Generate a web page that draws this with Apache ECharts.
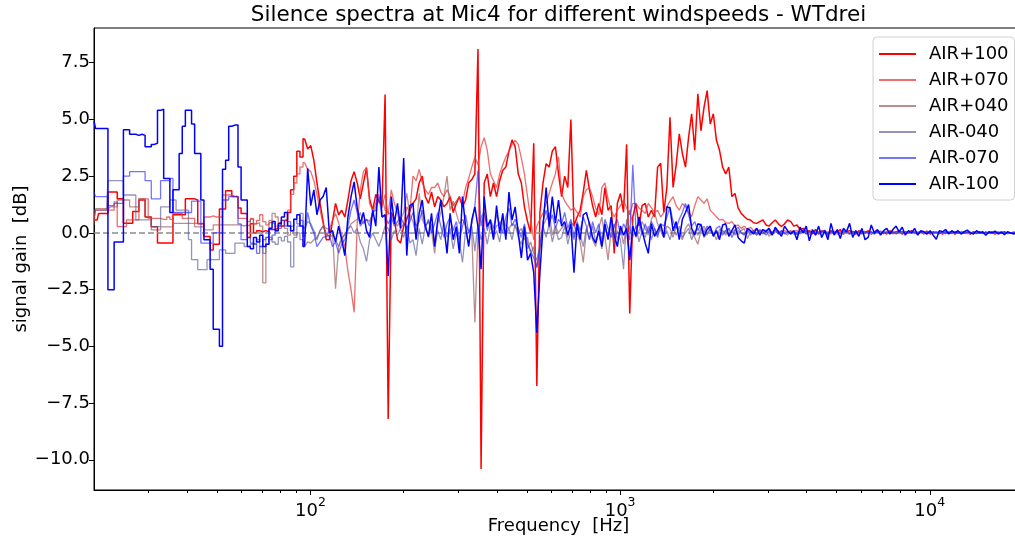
<!DOCTYPE html>
<html><head><meta charset="utf-8">
<script src="https://cdn.jsdelivr.net/npm/echarts@6/dist/echarts.min.js"></script>
<style>html,body{margin:0;padding:0;background:#fff}#c{width:1015px;height:545px}</style>
</head><body><div id="c"></div>
<script>
const TITLE = 'Silence spectra at Mic4 for different windspeeds - WTdrei';
const X_NAME = 'Frequency  [Hz]';
const Y_NAME = 'signal gain  [dB]';
const SERIES_NAMES = ['AIR+100', 'AIR+070', 'AIR+040', 'AIR-040', 'AIR-070', 'AIR-100'];
// sampling grid: 100 log-spaced points per decade starting at 20 Hz
const F_START = 20, PTS_PER_DECADE = 100, N_PTS = 301;
const FREQ = Array.from({length: N_PTS}, (_, i) => F_START * Math.pow(10, i / PTS_PER_DECADE));
const STEP_UNTIL = 68; // low-frequency bins are drawn as steps
const X_MAJOR = [100, 1000, 10000];
const X_MINOR = [30,40,50,60,70,80,90,200,300,400,500,600,700,800,900,2000,3000,4000,5000,6000,7000,8000,9000,20000];
const Y_TICKS = [-10, -7.5, -5, -2.5, 0, 2.5, 5, 7.5];

const AIR_P100 = [
0.57,0.57,0.86,0.86,0.86,1.8,1.8,1.8,1.5,1.5,
0.42,0.42,0.42,0.94,0.94,1.45,1.45,0.7,0.7,0.27,
0.27,-0.45,-0.45,-0.45,-0.45,-0.45,0.8,0.8,0.8,0.8,
1.5,1.5,1.5,1.45,0.4,0.4,-0.16,-0.16,-0.75,-0.5,
-0.5,1.05,1.05,1.86,1.86,1.6,1.6,1.1,0.86,0.86,
-0.2,0.4,0.0,0.1,0.05,0.1,0.05,0.15,0.15,0.2,
0.3,0.3,0.55,0.9,1.9,2.5,3.6,3.35,4.15,3.7,
3.85,3.2,2.2,1.3,0.5,-0.3,-0.3,0.5,1.3,0.8,
1.0,0.7,1.45,2.3,2.7,2.2,1.5,2.2,2.85,1.5,
1.0,1.7,1.4,1.2,6.1,-8.2,0.9,0.6,-0.3,-0.45,
0.3,0.6,1.0,1.3,1.5,2.2,2.5,1.6,1.3,1.8,
1.15,1.6,1.45,1.15,1.3,1.6,0.9,1.3,1.6,1.15,
1.45,2.2,2.35,2.6,8.1,-10.4,2.2,2.6,1.6,2.2,
1.6,2.3,2.76,2.9,3.6,4.1,3.8,2.6,2.2,1.15,
0.5,0.0,3.95,-6.75,0.9,2.2,3.05,2.9,3.6,3.8,
2.6,1.6,2.5,2.0,5.0,0.3,0.7,1.0,1.8,2.76,
1.9,1.2,0.7,1.3,0.8,2.0,1.0,1.2,-0.9,1.3,
1.74,0.9,3.9,-3.55,0.7,1.3,0.3,1.2,1.3,0.7,
1.0,0.7,2.9,3.07,0.9,2.0,5.1,2.0,3.0,4.37,
3.5,2.9,4.2,5.25,3.64,6.13,4.5,5.54,6.27,4.8,
5.25,4.08,3.64,2.9,2.6,2.9,1.6,1.74,1.1,0.86,
0.72,0.6,0.57,0.45,0.42,0.5,0.57,0.35,0.3,0.45,
0.57,0.4,0.28,0.4,0.57,0.5,0.3,0.35,0.15,0.2,
0.05,0.1,-0.05,0.15,0.0,0.1,0.05,-0.1,0.1,0.0,
0.05,0.15,-0.05,0.05,0.1,0.0,-0.05,0.1,0.05,0.0,
0.1,-0.05,0.05,0.1,0.0,0.05,-0.05,0.1,0.0,0.05,
0.08,-0.05,0.05,0.0,0.1,0.0,-0.05,0.05,0.0,0.08,
-0.05,0.05,0.0,0.05,-0.05,0.05,0.0,0.05,-0.05,0.05,
0.0,0.05,0.0,-0.05,0.05,0.0,0.05,-0.03,0.03,0.0,
0.05,-0.05,0.03,0.0,0.05,-0.03,0.0,0.03,-0.03,0.03,
0.0];

const AIR_P070 = [
0.64,1.0,1.0,1.0,1.0,1.0,1.0,1.37,0.28,0.28,
0.28,0.57,0.57,0.57,0.57,1.5,1.5,1.5,0.64,0.64,
0.64,0.64,0.6,0.6,0.7,0.6,0.86,0.86,0.86,0.64,
0.64,0.64,0.64,0.42,0.42,0.42,0.7,0.7,0.75,0.7,
0.7,0.7,1.67,1.67,1.67,1.6,1.6,0.64,0.64,0.64,
0.5,0.64,0.4,0.55,0.8,0.5,0.35,0.45,0.4,0.3,
0.45,0.55,0.6,1.0,1.7,2.2,2.6,2.9,3.1,2.8,
2.7,2.3,1.7,1.0,0.4,-0.15,0.15,0.55,0.85,0.45,
-0.1,-0.6,-1.7,-2.5,-3.5,0.4,1.9,2.7,2.9,1.3,
1.0,1.3,1.7,1.1,1.7,0.8,1.9,1.3,0.9,0.2,
0.4,1.15,0.9,2.5,2.3,2.8,2.2,1.9,1.7,2.0,
2.0,2.2,1.8,1.6,1.9,1.6,1.2,1.4,1.6,1.3,
2.0,2.4,2.9,3.35,3.0,3.8,4.2,3.64,2.6,2.3,
2.0,2.6,3.0,3.35,3.6,3.9,4.08,3.9,3.3,2.6,
1.6,0.6,-0.3,0.3,0.6,0.86,1.3,1.74,2.2,2.6,
3.35,1.74,1.4,1.2,1.0,1.1,0.9,0.7,1.6,1.9,
2.0,1.6,1.1,0.8,2.0,2.2,1.5,1.0,0.7,1.0,
1.2,1.45,1.1,0.8,1.3,1.3,1.1,1.0,0.85,1.3,
1.1,0.9,1.0,0.7,0.9,1.15,1.4,1.6,1.2,1.0,
1.3,1.15,0.9,0.72,1.2,1.6,1.45,1.3,1.5,1.0,
0.86,0.7,0.57,0.6,0.45,0.42,0.5,0.3,0.35,0.2,
0.3,0.15,0.25,0.1,0.2,0.05,0.15,0.1,0.2,0.0,
0.15,0.1,-0.05,0.1,0.05,0.1,0.05,0.12,-0.05,0.08,
0.0,0.1,0.05,-0.08,0.05,0.1,0.0,0.05,-0.05,0.08,
0.02,0.06,-0.04,0.08,0.0,0.05,-0.06,0.04,0.07,0.0,
0.05,-0.04,0.06,0.02,-0.05,0.06,0.0,0.04,-0.03,0.05,
0.0,0.05,-0.04,0.03,0.06,-0.02,0.04,0.0,-0.05,0.04,
0.02,-0.03,0.05,0.0,0.03,-0.04,0.04,0.0,0.03,-0.02,
0.04,0.0,-0.03,0.03,0.0,0.04,-0.02,0.02,0.0,0.03,
-0.02,0.02,0.0,0.03,-0.02,0.02,0.0,-0.02,0.02,0.0,
0.0];

const AIR_P040 = [
0.35,1.07,1.07,1.07,1.07,1.15,1.15,1.15,1.45,1.45,
1.45,1.45,1.15,1.15,1.15,1.5,1.5,0.7,0.7,0.13,
0.13,0.13,0.27,0.27,0.27,0.27,0.42,0.42,0.42,0.42,
0.42,0.42,0.42,0.27,0.27,0.27,0.13,0.13,0.13,0.35,
0.35,0.35,0.35,0.35,0.35,0.35,0.35,0.35,0.3,0.35,
0.3,0.6,0.4,0.45,0.3,-2.2,-0.2,0.55,0.86,0.7,
0.45,0.3,0.2,-0.1,0.1,-0.1,0.0,-0.3,-0.6,-0.4,
-0.45,-0.3,-0.2,0.1,0.3,0.2,0.15,0.1,-2.46,-0.6,
-0.3,0.0,0.1,0.4,0.5,0.6,0.9,0.4,0.6,0.5,
0.9,1.15,1.4,1.6,1.0,0.9,0.8,0.5,0.3,0.6,
0.9,1.74,0.8,0.5,-0.1,1.74,0.6,0.3,0.5,0.1,
-0.9,0.4,0.9,1.6,2.5,1.0,1.4,0.86,0.4,0.6,
0.3,0.1,0.0,-3.95,0.0,0.7,0.9,0.3,0.5,0.0,
0.3,0.4,0.6,0.3,0.2,0.4,0.3,0.0,0.2,-0.3,
-0.2,-0.9,-0.6,-1.55,-0.8,0.3,0.6,0.9,-0.1,0.3,
0.0,0.2,0.4,-0.2,0.5,0.3,0.0,-0.4,-1.3,0.1,
0.5,-0.3,-0.6,0.2,0.7,-0.2,-1.2,0.1,0.4,-0.3,
0.2,-0.5,0.4,1.0,0.3,-0.2,0.1,0.5,0.2,-0.1,
0.6,0.9,0.4,0.1,-0.2,0.3,0.2,-0.2,0.3,0.1,
-0.3,0.2,0.4,0.0,-0.2,-0.5,0.1,0.3,-0.1,0.2,
0.0,-0.3,0.15,0.1,-0.1,0.2,0.0,0.15,-0.1,0.1,
0.2,-0.25,0.05,0.1,-0.1,0.1,0.0,0.1,-0.15,0.05,
0.1,-0.05,0.1,0.0,-0.1,0.05,0.08,-0.06,0.1,0.0,
0.06,-0.08,0.04,0.1,-0.05,0.03,0.08,-0.04,0.05,0.0,
-0.06,0.05,0.02,0.08,-0.03,0.04,0.0,0.06,-0.05,0.03,
0.05,0.0,-0.04,0.06,0.02,-0.03,0.05,0.0,0.04,-0.04,
0.03,0.05,-0.02,0.0,0.04,-0.03,0.02,0.05,0.0,-0.03,
0.04,0.0,0.03,-0.03,0.02,0.04,-0.02,0.0,0.03,-0.02,
0.02,0.03,-0.02,0.0,0.03,-0.02,0.02,0.0,0.02,-0.02,
0.02,0.0,-0.02,0.02,0.0,0.02,-0.02,0.0,0.02,0.0,
0.0];

const AIR_M040 = [
1.0,1.0,1.0,1.0,1.0,2.3,2.3,2.3,2.3,2.3,
1.67,1.67,1.67,1.67,0.57,0.57,0.57,0.57,0.57,0.28,
0.28,0.28,1.15,1.15,1.15,1.45,1.45,1.0,1.0,1.0,
1.0,-0.3,-1.18,-1.18,-1.62,-1.62,-1.62,-1.18,-1.18,-1.18,
-1.18,-0.75,-0.75,-0.9,-0.9,-0.9,-0.45,-0.45,-0.45,-0.6,
-0.6,-0.5,-0.5,-0.3,-0.6,-0.9,-0.5,-0.2,-0.4,-0.5,
-0.2,-0.35,-0.15,-0.4,-1.5,-0.2,0.3,0.86,0.2,0.5,
0.4,0.1,-0.3,0.1,0.3,0.0,-0.2,-0.1,-0.3,-0.6,
-0.2,-0.1,0.2,0.3,0.0,0.2,-0.4,-0.7,-1.26,-0.3,
0.0,-0.3,-0.6,-0.2,0.3,0.2,-0.3,0.1,-0.1,0.2,
-0.2,0.3,-0.45,-0.3,-1.0,0.2,-0.5,0.3,-0.2,0.4,
-0.6,0.1,-0.3,0.5,-0.2,0.2,-0.7,0.0,-0.4,-1.3,
0.1,-0.5,0.3,-0.8,0.4,-0.3,0.2,-0.5,0.3,-0.2,
0.1,-0.4,0.5,-0.1,0.2,-0.3,0.4,-0.2,-0.5,0.1,
-0.7,-0.4,-0.9,-1.2,-0.5,0.3,-0.2,0.4,-0.4,0.2,
-0.3,-0.2,0.3,-0.5,0.1,-0.3,0.4,-0.1,-0.6,0.2,
-0.3,0.3,-0.4,0.0,-0.7,0.2,-0.2,0.4,-0.5,0.1,
-0.3,-1.6,0.6,0.2,-0.2,0.3,-0.4,0.1,-0.2,0.3,
-0.3,0.2,-0.1,0.3,-0.2,0.1,-0.3,0.2,-0.1,0.3,
-0.2,0.0,0.2,-0.3,0.1,-0.1,0.2,-0.2,0.0,0.15,
-0.1,0.1,-0.15,0.05,0.1,-0.1,0.05,-0.1,0.1,0.0,
-0.05,0.1,-0.1,0.05,0.0,0.05,-0.05,0.05,0.0,-0.05,
0.05,0.0,0.05,-0.05,0.0,0.05,-0.06,0.04,0.0,0.06,
-0.04,0.03,0.06,-0.05,0.02,0.0,0.05,-0.04,0.03,0.0,
0.05,-0.03,0.02,0.06,-0.04,0.0,0.04,-0.02,0.05,-0.03,
0.0,0.04,-0.03,0.03,0.0,0.05,-0.02,0.02,-0.04,0.03,
0.02,-0.03,0.04,0.0,-0.02,0.03,0.0,0.04,-0.03,0.02,
0.0,0.03,-0.02,0.02,0.0,-0.03,0.03,0.0,0.02,-0.02,
0.02,0.0,0.03,-0.02,0.0,0.02,-0.02,0.02,0.0,0.02,
-0.02,0.0,0.02,0.0,-0.02,0.02,0.0,0.02,-0.02,0.0,
0.0];

const AIR_M070 = [
1.8,1.6,1.6,1.6,1.6,1.2,1.2,1.3,1.3,1.3,
2.5,2.5,2.7,2.7,2.7,2.7,2.7,2.3,2.3,1.5,
1.5,1.5,2.3,2.3,2.3,2.4,0.9,0.9,0.9,0.9,
0.9,0.9,1.4,1.4,1.4,-0.45,-0.45,-0.45,-0.45,0.0,
0.0,0.0,1.45,1.45,1.6,1.6,1.6,0.4,-0.3,-0.3,
-0.2,-0.45,-0.5,-0.9,-0.6,-0.3,-0.2,-0.3,-0.1,0.1,
0.2,0.55,0.3,0.5,0.3,0.6,0.4,0.55,-0.15,0.9,
0.3,0.0,-0.6,-0.4,-0.2,-0.15,-0.1,-0.6,-0.4,-0.9,
-0.5,-0.3,0.3,1.0,1.45,0.9,0.3,0.5,0.6,0.3,
0.9,1.0,1.6,0.7,0.8,0.4,0.7,0.3,0.5,0.7,
0.4,0.2,0.5,0.9,0.3,0.5,1.0,0.2,0.6,0.0,
0.4,0.9,0.3,-0.2,0.4,0.7,0.1,0.5,-0.3,0.3,
0.8,0.0,0.4,1.2,2.76,0.3,0.9,0.1,0.6,0.2,
0.8,0.4,0.0,0.7,1.1,0.3,0.6,0.2,-0.2,0.4,
-0.5,-0.8,-1.1,-1.5,-0.6,0.5,1.0,0.4,0.8,0.2,
0.6,0.4,0.9,0.2,0.6,-0.2,0.5,0.1,0.7,0.3,
-0.3,0.5,0.0,0.4,-0.4,0.6,0.2,-0.2,0.3,0.6,
-0.1,0.4,0.1,-0.3,3.0,0.2,0.5,-0.1,0.4,0.0,
0.5,0.2,-0.2,0.4,0.3,0.7,1.15,0.5,0.2,0.6,
0.9,1.3,0.8,0.3,0.5,0.1,0.4,0.0,0.3,0.1,
-0.1,0.2,0.3,-0.1,0.1,0.2,-0.2,0.1,0.25,0.0,
-0.1,0.15,0.0,0.1,-0.1,0.15,0.05,-0.1,0.1,0.0,
0.15,-0.05,0.1,0.0,0.05,-0.05,0.1,-0.08,0.06,0.12,
-0.05,0.08,0.0,0.1,-0.06,0.05,0.12,-0.04,0.06,0.0,
0.08,-0.05,0.1,0.02,-0.06,0.08,0.0,0.05,-0.04,0.07,
0.0,0.06,-0.05,0.04,0.08,-0.03,0.05,0.0,0.06,-0.04,
0.03,0.06,-0.03,0.04,0.0,0.05,-0.04,0.03,0.05,-0.02,
0.04,0.0,0.03,-0.03,0.05,0.0,0.03,-0.02,0.04,0.0,
0.03,-0.02,0.04,0.0,0.02,-0.03,0.03,0.0,0.03,-0.02,
0.02,0.0,0.03,-0.02,0.02,0.0,-0.02,0.02,0.0,0.02,
0.0];

const AIR_M100 = [
4.93,4.6,4.6,4.6,4.6,-2.5,-2.5,-0.4,-0.4,-0.4,
4.55,4.55,4.35,4.35,4.3,4.35,4.3,3.8,3.8,3.9,
3.95,5.4,5.45,2.4,2.4,0.9,1.9,1.9,3.5,4.7,
5.4,5.4,4.8,3.5,3.5,1.45,-0.3,-0.3,-1.6,-4.25,
-4.25,-5.0,2.8,3.2,4.7,4.75,4.75,2.9,1.45,1.45,
-0.6,-0.7,-0.2,-0.4,-0.1,-0.6,-0.5,0.2,0.5,0.1,
0.4,0.7,0.9,0.3,0.1,0.6,0.8,0.3,-0.6,2.85,
1.2,1.9,0.8,1.45,1.6,2.0,0.0,0.1,-0.4,0.3,
-0.3,-1.0,0.7,1.6,2.25,1.1,0.4,0.9,0.1,-0.2,
1.0,0.3,2.9,0.7,0.8,-1.9,1.6,0.4,1.3,0.2,
3.3,-1.0,1.2,1.3,-0.3,0.86,1.45,0.28,-0.16,0.86,
-0.6,0.57,1.45,0.28,-0.9,0.86,-0.3,0.28,-0.9,1.6,
0.28,-0.6,0.57,1.15,0.28,-1.6,1.6,0.28,0.57,-0.3,
1.2,0.0,0.86,-0.3,1.8,0.57,1.15,0.0,-1.1,0.28,
-1.2,-0.9,-1.75,-4.4,-1.75,0.28,2.0,0.28,1.6,0.43,
1.45,0.3,0.5,-0.1,0.4,-1.75,0.4,-0.3,0.8,0.9,
0.4,-0.2,-0.45,0.1,-0.6,0.4,-0.3,0.7,-0.1,-0.6,
0.3,-0.1,0.2,-1.2,0.3,-0.15,0.7,0.1,-0.45,-0.9,
0.4,-0.15,0.1,0.4,-0.2,1.15,1.1,0.1,0.5,-0.3,
0.6,0.9,1.25,0.2,-0.1,0.4,0.35,-0.15,0.15,0.3,
-0.15,0.1,-0.3,0.35,0.4,-0.15,0.1,0.35,-0.2,-0.35,
-0.45,0.2,0.1,-0.05,0.2,-0.1,0.15,0.05,0.2,-0.1,
0.25,0.05,-0.15,0.3,0.1,-0.05,0.1,-0.3,0.25,0.0,
0.3,-0.35,0.15,-0.1,0.3,-0.2,0.1,-0.3,0.42,-0.1,
0.15,-0.25,0.2,0.05,0.42,-0.2,0.1,-0.15,0.2,-0.3,
-0.2,0.35,0.0,0.15,-0.1,0.1,0.2,-0.05,0.15,0.3,
0.05,0.25,-0.1,0.1,0.0,0.2,-0.1,0.1,0.05,-0.05,
0.1,-0.1,-0.28,0.1,0.05,0.15,-0.05,0.1,0.0,0.1,
-0.05,0.05,0.12,0.0,-0.05,0.1,0.0,0.05,-0.1,0.05,
0.0,0.08,-0.05,0.05,-0.08,0.05,0.0,-0.05,0.05,-0.05,
0.0];

const SERIES_VALUES = [AIR_P100, AIR_P070, AIR_P040, AIR_M040, AIR_M070, AIR_M100];
const SERIES_COLORS = ['#ff0000', 'rgba(232,60,60,0.75)', 'rgba(150,80,80,0.65)', 'rgba(90,90,150,0.65)', 'rgba(40,40,255,0.65)', '#0000ff'];
const SERIES_WIDTHS = [1.5, 1.3, 1.3, 1.3, 1.3, 1.5];

const FONT = 'DejaVu Sans';
const chart = echarts.init(document.getElementById('c'), null, {renderer: 'canvas'});

const series = [];
SERIES_NAMES.forEach((name, k) => {
  const pts = FREQ.map((f, i) => [f, SERIES_VALUES[k][i]]);
  const common = {
    name, type: 'line', xAxisIndex: 0, yAxisIndex: 0,
    symbol: 'none', showSymbol: false, animation: false,
    lineStyle: {color: SERIES_COLORS[k], width: SERIES_WIDTHS[k]},
    itemStyle: {color: SERIES_COLORS[k]},
    z: 2 + k
  };
  series.push(Object.assign({}, common, {data: pts.slice(0, STEP_UNTIL + 1), step: 'middle'}));
  series.push(Object.assign({}, common, {data: pts.slice(STEP_UNTIL)}));
});
series.push({
  name: 'zero', type: 'line', data: [], z: 20, silent: true,
  markLine: {
    silent: true, symbol: 'none', label: {show: false}, animation: false,
    lineStyle: {color: '#8c8c8c', type: [6, 3], width: 1.5},
    data: [{yAxis: 0}]
  }
});

chart.setOption({
  animation: false,
  backgroundColor: '#fff',
  grid: {left: 94, right: -8, top: 28, bottom: 55, outerBoundsMode: 'none', containLabel: false,
         show: true, borderColor: '#000', borderWidth: 1, backgroundColor: 'transparent'},
  graphic: [{
    type: 'text', x: 558.5, y: 15,
    style: {text: TITLE, textAlign: 'center', textVerticalAlign: 'middle', font: '21.5px "DejaVu Sans"', fill: '#000'}
  }],
  legend: {
    orient: 'vertical', left: 873, top: 37,
    itemWidth: 37, itemHeight: 14, itemGap: 8,
    padding: [8, 6, 7, 5],
    itemStyle: {opacity: 0},
    backgroundColor: 'rgba(255,255,255,0.85)', borderColor: '#d0d0d0', borderWidth: 1, borderRadius: 4,
    textStyle: {fontSize: 18, fontFamily: FONT, color: '#000', padding: [0, 0, 0, 8]},
    data: SERIES_NAMES
  },
  xAxis: [{
    type: 'log', logBase: 10, min: 20, max: 20000,
    name: X_NAME, nameLocation: 'middle', nameGap: 27, nameMoveOverlap: false,
    nameTextStyle: {fontSize: 18, fontFamily: FONT, color: '#000'},
    axisLine: {onZero: false, lineStyle: {color: '#000', width: 1}},
    axisTick: {show: true, length: 5, customValues: X_MAJOR, lineStyle: {color: '#000'}},
    axisLabel: {
      customValues: X_MAJOR, margin: 6, color: '#000',
      formatter: v => '{b|10}{s|' + Math.round(Math.log10(v)) + '}',
      rich: {
        b: {fontSize: 18, fontFamily: FONT, color: '#000', lineHeight: 24, verticalAlign: 'bottom'},
        s: {fontSize: 12.5, fontFamily: FONT, color: '#000', lineHeight: 14, verticalAlign: 'top'}
      }
    },
    splitLine: {show: false}, minorTick: {show: false}
  }, {
    type: 'log', logBase: 10, min: 20, max: 20000, position: 'bottom',
    axisLine: {show: false, onZero: false},
    axisTick: {show: true, length: 3, customValues: X_MINOR, lineStyle: {color: '#000'}},
    axisLabel: {show: false}, splitLine: {show: false}
  }],
  yAxis: {
    type: 'value', min: -11.33, max: 9.03,
    name: Y_NAME, nameLocation: 'middle', nameGap: 64, nameMoveOverlap: false,
    nameTextStyle: {fontSize: 18, fontFamily: FONT, color: '#000'},
    axisLine: {show: true, onZero: false, lineStyle: {color: '#000', width: 1}},
    axisTick: {show: true, length: 5, customValues: Y_TICKS, lineStyle: {color: '#000'}},
    axisLabel: {
      customValues: Y_TICKS, margin: 4, fontSize: 18, fontFamily: FONT, color: '#000',
      formatter: v => (v < 0 ? '\u2212' : '') + Math.abs(v).toFixed(1)
    },
    splitLine: {show: false}
  },
  series
});
</script></body></html>
